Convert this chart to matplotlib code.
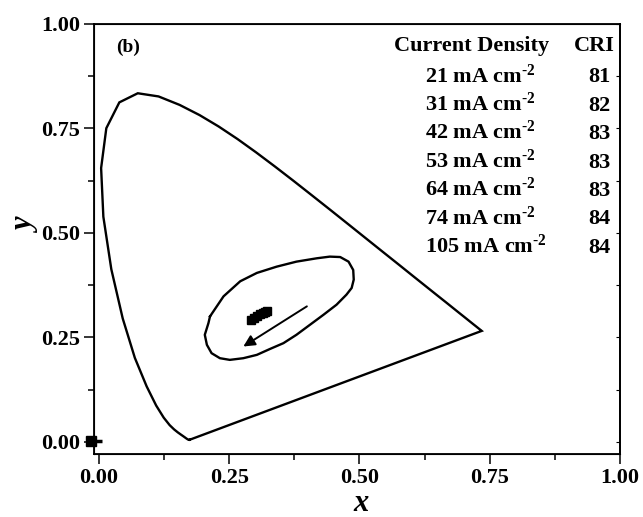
import matplotlib
matplotlib.use("Agg")
import matplotlib.pyplot as plt

plt.rcParams['font.family'] = ['Liberation Serif', 'DejaVu Serif']
plt.rcParams['font.weight'] = 'bold'
plt.rcParams['mathtext.fontset'] = 'custom'
plt.rcParams['mathtext.rm'] = 'Liberation Serif:bold'
plt.rcParams['mathtext.bf'] = 'Liberation Serif:bold'
plt.rcParams['mathtext.it'] = 'Liberation Serif:italic:bold'

# CIE 1931 spectral locus (380-700 nm)
locus_x = [0.1741, 0.1740, 0.1738, 0.1736, 0.1733, 0.1730, 0.1726, 0.1721, 0.1714, 0.1703,
           0.1689, 0.1669, 0.1644, 0.1611, 0.1566, 0.1510, 0.1440, 0.1355, 0.1241, 0.1096,
           0.0913, 0.0687, 0.0454, 0.0235, 0.0082, 0.0039, 0.0139, 0.0389, 0.0743, 0.1142,
           0.1547, 0.1929, 0.2296, 0.2658, 0.3016, 0.3373, 0.3731, 0.4087, 0.4441, 0.4788,
           0.5125, 0.5448, 0.5752, 0.6029, 0.6270, 0.6482, 0.6658, 0.6801, 0.6915, 0.7006,
           0.7079, 0.7140, 0.7190, 0.7230, 0.7260, 0.7283, 0.7300, 0.7311, 0.7320, 0.7334,
           0.7344, 0.7347]
locus_y = [0.0050, 0.0050, 0.0049, 0.0049, 0.0048, 0.0048, 0.0048, 0.0048, 0.0051, 0.0058,
           0.0069, 0.0086, 0.0109, 0.0138, 0.0177, 0.0227, 0.0297, 0.0399, 0.0578, 0.0868,
           0.1327, 0.2007, 0.2950, 0.4127, 0.5384, 0.6548, 0.7502, 0.8120, 0.8338, 0.8262,
           0.8059, 0.7816, 0.7543, 0.7243, 0.6923, 0.6589, 0.6245, 0.5896, 0.5547, 0.5202,
           0.4866, 0.4544, 0.4242, 0.3965, 0.3725, 0.3514, 0.3340, 0.3197, 0.3083, 0.2993,
           0.2920, 0.2859, 0.2809, 0.2770, 0.2740, 0.2717, 0.2700, 0.2689, 0.2680, 0.2666,
           0.2656, 0.2653]

# closed contour around the white-light region
ring_x = [0.213, 0.239, 0.271, 0.303, 0.341, 0.379, 0.418, 0.443, 0.463, 0.479, 0.488, 0.489,
          0.485, 0.475, 0.456, 0.431, 0.405, 0.379, 0.354, 0.328, 0.303, 0.277, 0.251, 0.232,
          0.216, 0.207, 0.203, 0.210, 0.213]
ring_y = [0.300, 0.348, 0.384, 0.404, 0.419, 0.431, 0.439, 0.443, 0.442, 0.431, 0.411, 0.388,
          0.368, 0.352, 0.328, 0.304, 0.280, 0.256, 0.236, 0.222, 0.208, 0.200, 0.196, 0.200,
          0.212, 0.232, 0.256, 0.284, 0.300]

# measured chromaticity coordinates
current_density = ['21', '31', '42', '53', '64', '74', '105']
cri = ['81', '82', '83', '83', '83', '84', '84']
pt_x = [0.322, 0.318, 0.314, 0.309, 0.303, 0.297, 0.291]
pt_y = [0.314, 0.311, 0.308, 0.305, 0.300, 0.296, 0.292]

arrow_start = (0.399, 0.324)
arrow_end = (0.277, 0.228)

xticks = [0.0, 0.25, 0.5, 0.75, 1.0]
yticks = [0.0, 0.25, 0.5, 0.75, 1.0]
minor_ticks = [0.125, 0.375, 0.625, 0.875]
tick_labels = ['0.00', '0.25', '0.50', '0.75', '1.00']

fig = plt.figure(figsize=(6.43, 5.17), dpi=100)
ax = fig.add_axes([0.146, 0.122, 0.818, 0.832])

ax.plot(locus_x + [locus_x[0]], locus_y + [locus_y[0]], color='black', lw=1.7,
        solid_joinstyle='miter')
ax.plot(ring_x, ring_y, color='black', lw=1.7)
ax.plot(pt_x, pt_y, linestyle='none', marker='s', ms=6, color='black')
ax.annotate('', xy=arrow_end, xytext=arrow_start,
            arrowprops=dict(arrowstyle='-|>', color='black', lw=1.4, mutation_scale=17,
                            shrinkA=0, shrinkB=0))

# small mark at the origin
ax.plot([-0.014, 0.006], [0.002, 0.002], color='black', lw=2.5, clip_on=False,
        solid_capstyle='butt')
ax.plot([-0.016], [0.002], marker='s', ms=6.5, color='black', clip_on=False)

ax.set_xlim(-0.01, 1.0)
ax.set_ylim(-0.029, 1.0)
ax.set_xticks(xticks)
ax.set_xticklabels(tick_labels)
ax.set_yticks(yticks)
ax.set_yticklabels(tick_labels)
ax.set_xticks(minor_ticks, minor=True)
ax.set_yticks(minor_ticks, minor=True)
ax.tick_params(which='major', direction='out', length=7, width=1.1, labelsize=16, pad=3)
ax.tick_params(which='minor', direction='out', length=4, width=1.1)
for lab in ax.get_xticklabels() + ax.get_yticklabels():
    lab.set_fontweight('bold')
for s in ax.spines.values():
    s.set_linewidth(1.3)

# inward ticks on the right spine
ax2 = ax.twinx()
ax2.set_ylim(ax.get_ylim())
ax2.set_yticks(yticks)
ax2.set_yticks(minor_ticks, minor=True)
ax2.tick_params(which='both', direction='in', length=3, width=0.8, labelright=False)
ax2.spines['right'].set_linewidth(1.3)

ax.text(0.508, -0.116, 'x', transform=ax.transAxes, ha='center', va='center',
        fontsize=22, fontstyle='italic', fontweight='bold')
ax.text(-0.128, 0.53, 'y', transform=ax.transAxes, ha='center', va='center',
        fontsize=22, fontstyle='italic', fontweight='bold', rotation=90)

ax.text(0.056, 0.933, '(b)', fontsize=14, fontweight='bold', ha='center', va='baseline')
ax.text(0.566, 0.935, 'Current Density', fontsize=16, fontweight='bold', ha='left',
        va='baseline')
ax.text(0.950, 0.935, 'CRI', fontsize=16, fontweight='bold', ha='center', va='baseline')
for i, (cd, c) in enumerate(zip(current_density, cri)):
    yb = 0.860 - i * 0.068
    ax.text(0.626, yb, cd + r' mA cm$^{\text{-}2}$', fontsize=16, fontweight='bold',
            ha='left', va='baseline')
    ax.text(0.961, yb, c, fontsize=16, fontweight='bold', ha='center', va='baseline')

fig.savefig('out.png', dpi=100)
